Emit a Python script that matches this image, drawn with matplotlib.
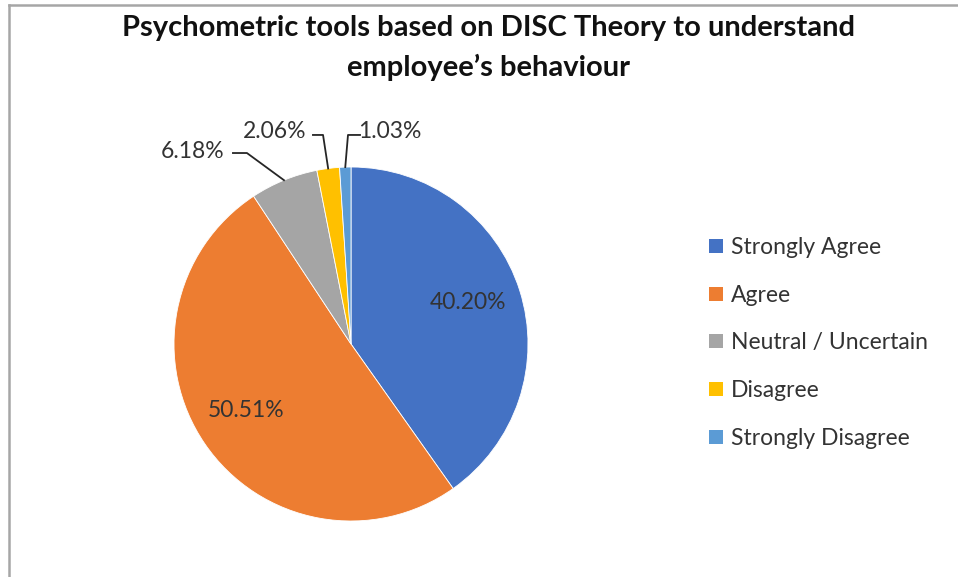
import matplotlib
matplotlib.use("Agg")
import matplotlib.pyplot as plt
from matplotlib.patches import Patch
from matplotlib.lines import Line2D
import numpy as np

categories = ["Strongly Agree", "Agree", "Neutral / Uncertain", "Disagree", "Strongly Disagree"]
values = [40.20, 50.51, 6.18, 2.06, 1.03]
value_labels = ["40.20%", "50.51%", "6.18%", "2.06%", "1.03%"]
colors = ["#4472C4", "#ED7D31", "#A5A5A5", "#FFC000", "#5B9BD5"]
title = "Psychometric tools based on DISC Theory to understand\nemployee\u2019s behaviour"

plt.rcParams['font.family'] = ['Lato', 'DejaVu Sans']

W, H = 958, 577
fig = plt.figure(figsize=(W / 100, H / 100), dpi=100)
fig.patch.set_facecolor("white")

# frame lines (left and top)
fig.add_artist(Line2D([9 / W, 9 / W], [0, 1 - 5 / H], color="#a6a6a6", lw=1.8, transform=fig.transFigure))
fig.add_artist(Line2D([9 / W, 1], [1 - 5 / H, 1 - 5 / H], color="#a6a6a6", lw=1.8, transform=fig.transFigure))

cx, cy, r = 351, 344, 177
ax = fig.add_axes([(cx - r) / W, (H - cy - r) / H, 2 * r / W, 2 * r / H])
wedges, _ = ax.pie(values, colors=colors, startangle=90, counterclock=False,
                   wedgeprops=dict(linewidth=0.6, edgecolor="white"))
ax.set_xlim(-1, 1)
ax.set_ylim(-1, 1)
ax.set_aspect("equal")
ax.axis("off")

lab_color = "#333333"
fs = 16.5
# inside labels
inside_pos = {0: (0.661, 0.232), 1: (-0.593, -0.373)}
for i, (x, y) in inside_pos.items():
    ax.text(x, y, value_labels[i], ha="center", va="center", fontsize=fs, color=lab_color)

# outside labels with leader lines
outside = {
    2: dict(text=(-0.893, 1.09), start=(-0.667, 1.079), elbow=(-0.588, 1.079)),
    3: dict(text=(-0.429, 1.203), start=(-0.215, 1.181), elbow=(-0.158, 1.181)),
    4: dict(text=(0.220, 1.203), start=(0.051, 1.181), elbow=(-0.017, 1.181)),
}
for i, d in outside.items():
    w = wedges[i]
    ang = np.deg2rad((w.theta1 + w.theta2) / 2)
    px, py = np.cos(ang), np.sin(ang)
    xs = [d["start"][0], d["elbow"][0], px]
    ys = [d["start"][1], d["elbow"][1], py]
    ax.plot(xs, ys, color="#262626", lw=1.3, clip_on=False)
    ax.text(d["text"][0], d["text"][1], value_labels[i], ha="center", va="center",
            fontsize=fs, color=lab_color, clip_on=False)

fig.text(488 / W, 1 - 48 / H, title, ha="center", va="center", fontsize=21,
         fontweight="bold", color="#111111", linespacing=1.6)

handles = [Patch(facecolor=c, edgecolor="none") for c in colors]
fig.legend(handles, categories, loc="center left", bbox_to_anchor=(698 / W, 1 - 343 / H),
           frameon=False, fontsize=16.5, handlelength=0.57, handleheight=0.57,
           handletextpad=0.35, labelspacing=1.17, labelcolor=lab_color, borderpad=0)

fig.savefig("out.png", dpi=100, facecolor="white")
